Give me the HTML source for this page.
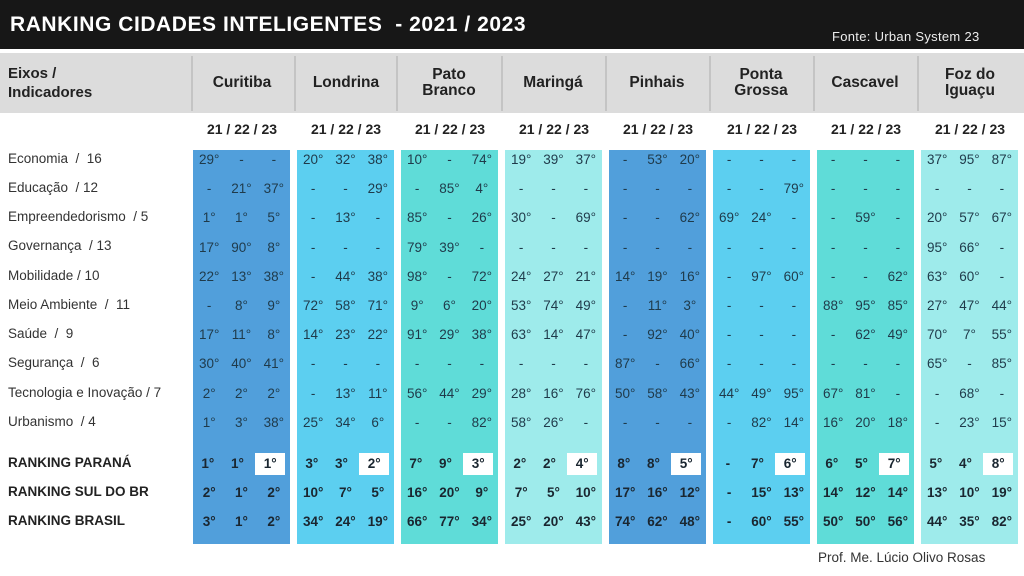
<!DOCTYPE html>
<html><head><meta charset="utf-8"><style>
*{margin:0;padding:0;box-sizing:border-box}
body{width:1024px;height:576px;overflow:hidden;background:#fff;font-family:"Liberation Sans",sans-serif;position:relative;color:#2b2f33}
.top{position:absolute;left:0;top:0;width:1024px;height:49px;background:#171717}
.title{position:absolute;left:10px;top:13px;color:#fff;font-weight:bold;font-size:21px;letter-spacing:0.55px}
.fonte{position:absolute;left:832px;top:29px;color:#eee;font-size:13px;letter-spacing:0.3px}
.hband{position:absolute;left:0;top:53px;width:1024px;height:60px;background:#dcdcdc}
.hd{position:absolute;top:56px;height:55px;border-left:2px solid #c4c4c4}
.hn{position:absolute;top:53px;height:60px;display:flex;align-items:center;justify-content:center;text-align:center;font-weight:bold;font-size:15.5px;line-height:16px;color:#222;width:104px}
.eixos{position:absolute;left:8px;top:64px;font-weight:bold;font-size:15px;line-height:19px;color:#222}
.yr{position:absolute;top:121px;width:104px;text-align:center;font-weight:bold;font-size:14px;color:#222}
.lab{position:absolute;left:8px;font-size:13.5px;color:#333}
.lab.b{font-weight:bold;font-size:13.5px;color:#222}
.col{position:absolute;top:150px;height:394px;width:97px}
.rows{position:absolute;left:0;top:-5px;width:97px}
.r{display:flex;height:29.2px;line-height:29.2px;font-size:13.5px;color:#1f3a4a}
.r span{flex:1;text-align:center}
.k{position:absolute;left:0;top:303.5px;width:97px}
.k .r{height:29px;line-height:29px;font-weight:bold;color:#1a2630}
.k .r span.w{background:#fff;margin:4px 5px 3px 3px;line-height:22px}
.c1{background:#519fdb}.c2{background:#5ccff0}.c3{background:#5fdcd8}.c4{background:#9eebeb}
.prof{position:absolute;left:818px;top:550px;font-size:13.5px;color:#333}
</style></head><body>
<div class="top"></div>
<div class="title">RANKING CIDADES INTELIGENTES &nbsp;- 2021 / 2023</div>
<div class="fonte">Fonte: Urban System 23</div>
<div class="hband"></div>
<div class="eixos">Eixos /<br>Indicadores</div>
<div class="hd" style="left:191px"></div><div class="hd" style="left:294px"></div><div class="hd" style="left:396px"></div><div class="hd" style="left:501px"></div><div class="hd" style="left:605px"></div><div class="hd" style="left:709px"></div><div class="hd" style="left:813px"></div><div class="hd" style="left:917px"></div>
<div class="hn" style="left:190px">Curitiba</div>
<div class="hn" style="left:294px">Londrina</div>
<div class="hn" style="left:397px">Pato<br>Branco</div>
<div class="hn" style="left:501px">Maringá</div>
<div class="hn" style="left:605px">Pinhais</div>
<div class="hn" style="left:709px">Ponta<br>Grossa</div>
<div class="hn" style="left:813px">Cascavel</div>
<div class="hn" style="left:918px">Foz do<br>Iguaçu</div>
<div class="yr" style="left:190px">21 / 22 / 23</div><div class="yr" style="left:294px">21 / 22 / 23</div><div class="yr" style="left:398px">21 / 22 / 23</div><div class="yr" style="left:502px">21 / 22 / 23</div><div class="yr" style="left:606px">21 / 22 / 23</div><div class="yr" style="left:710px">21 / 22 / 23</div><div class="yr" style="left:814px">21 / 22 / 23</div><div class="yr" style="left:918px">21 / 22 / 23</div>

<div class="lab" style="top:151px">Economia &nbsp;/ &nbsp;16</div>
<div class="lab" style="top:180px">Educação &nbsp;/ 12</div>
<div class="lab" style="top:209px">Empreendedorismo &nbsp;/ 5</div>
<div class="lab" style="top:238px">Governança &nbsp;/ 13</div>
<div class="lab" style="top:268px">Mobilidade / 10</div>
<div class="lab" style="top:297px">Meio Ambiente &nbsp;/ &nbsp;11</div>
<div class="lab" style="top:326px">Saúde &nbsp;/ &nbsp;9</div>
<div class="lab" style="top:355px">Segurança &nbsp;/ &nbsp;6</div>
<div class="lab" style="top:385px">Tecnologia e Inovação / 7</div>
<div class="lab" style="top:414px">Urbanismo &nbsp;/ 4</div>
<div class="lab b" style="top:455px">RANKING PARANÁ</div>
<div class="lab b" style="top:484px">RANKING SUL DO BR</div>
<div class="lab b" style="top:513px">RANKING BRASIL</div>

<div class="col c1" style="left:193px"><div class="rows">
<div class="r"><span>29°</span><span>-</span><span>-</span></div>
<div class="r"><span>-</span><span>21°</span><span>37°</span></div>
<div class="r"><span>1°</span><span>1°</span><span>5°</span></div>
<div class="r"><span>17°</span><span>90°</span><span>8°</span></div>
<div class="r"><span>22°</span><span>13°</span><span>38°</span></div>
<div class="r"><span>-</span><span>8°</span><span>9°</span></div>
<div class="r"><span>17°</span><span>11°</span><span>8°</span></div>
<div class="r"><span>30°</span><span>40°</span><span>41°</span></div>
<div class="r"><span>2°</span><span>2°</span><span>2°</span></div>
<div class="r"><span>1°</span><span>3°</span><span>38°</span></div>
<div class="k">
<div class="r"><span>1°</span><span>1°</span><span class="w">1°</span></div>
<div class="r"><span>2°</span><span>1°</span><span>2°</span></div>
<div class="r"><span>3°</span><span>1°</span><span>2°</span></div>
</div></div></div>

<div class="col c2" style="left:297px"><div class="rows">
<div class="r"><span>20°</span><span>32°</span><span>38°</span></div>
<div class="r"><span>-</span><span>-</span><span>29°</span></div>
<div class="r"><span>-</span><span>13°</span><span>-</span></div>
<div class="r"><span>-</span><span>-</span><span>-</span></div>
<div class="r"><span>-</span><span>44°</span><span>38°</span></div>
<div class="r"><span>72°</span><span>58°</span><span>71°</span></div>
<div class="r"><span>14°</span><span>23°</span><span>22°</span></div>
<div class="r"><span>-</span><span>-</span><span>-</span></div>
<div class="r"><span>-</span><span>13°</span><span>11°</span></div>
<div class="r"><span>25°</span><span>34°</span><span>6°</span></div>
<div class="k">
<div class="r"><span>3°</span><span>3°</span><span class="w">2°</span></div>
<div class="r"><span>10°</span><span>7°</span><span>5°</span></div>
<div class="r"><span>34°</span><span>24°</span><span>19°</span></div>
</div></div></div>

<div class="col c3" style="left:401px"><div class="rows">
<div class="r"><span>10°</span><span>-</span><span>74°</span></div>
<div class="r"><span>-</span><span>85°</span><span>4°</span></div>
<div class="r"><span>85°</span><span>-</span><span>26°</span></div>
<div class="r"><span>79°</span><span>39°</span><span>-</span></div>
<div class="r"><span>98°</span><span>-</span><span>72°</span></div>
<div class="r"><span>9°</span><span>6°</span><span>20°</span></div>
<div class="r"><span>91°</span><span>29°</span><span>38°</span></div>
<div class="r"><span>-</span><span>-</span><span>-</span></div>
<div class="r"><span>56°</span><span>44°</span><span>29°</span></div>
<div class="r"><span>-</span><span>-</span><span>82°</span></div>
<div class="k">
<div class="r"><span>7°</span><span>9°</span><span class="w">3°</span></div>
<div class="r"><span>16°</span><span>20°</span><span>9°</span></div>
<div class="r"><span>66°</span><span>77°</span><span>34°</span></div>
</div></div></div>

<div class="col c4" style="left:505px"><div class="rows">
<div class="r"><span>19°</span><span>39°</span><span>37°</span></div>
<div class="r"><span>-</span><span>-</span><span>-</span></div>
<div class="r"><span>30°</span><span>-</span><span>69°</span></div>
<div class="r"><span>-</span><span>-</span><span>-</span></div>
<div class="r"><span>24°</span><span>27°</span><span>21°</span></div>
<div class="r"><span>53°</span><span>74°</span><span>49°</span></div>
<div class="r"><span>63°</span><span>14°</span><span>47°</span></div>
<div class="r"><span>-</span><span>-</span><span>-</span></div>
<div class="r"><span>28°</span><span>16°</span><span>76°</span></div>
<div class="r"><span>58°</span><span>26°</span><span>-</span></div>
<div class="k">
<div class="r"><span>2°</span><span>2°</span><span class="w">4°</span></div>
<div class="r"><span>7°</span><span>5°</span><span>10°</span></div>
<div class="r"><span>25°</span><span>20°</span><span>43°</span></div>
</div></div></div>

<div class="col c1" style="left:609px"><div class="rows">
<div class="r"><span>-</span><span>53°</span><span>20°</span></div>
<div class="r"><span>-</span><span>-</span><span>-</span></div>
<div class="r"><span>-</span><span>-</span><span>62°</span></div>
<div class="r"><span>-</span><span>-</span><span>-</span></div>
<div class="r"><span>14°</span><span>19°</span><span>16°</span></div>
<div class="r"><span>-</span><span>11°</span><span>3°</span></div>
<div class="r"><span>-</span><span>92°</span><span>40°</span></div>
<div class="r"><span>87°</span><span>-</span><span>66°</span></div>
<div class="r"><span>50°</span><span>58°</span><span>43°</span></div>
<div class="r"><span>-</span><span>-</span><span>-</span></div>
<div class="k">
<div class="r"><span>8°</span><span>8°</span><span class="w">5°</span></div>
<div class="r"><span>17°</span><span>16°</span><span>12°</span></div>
<div class="r"><span>74°</span><span>62°</span><span>48°</span></div>
</div></div></div>

<div class="col c2" style="left:713px"><div class="rows">
<div class="r"><span>-</span><span>-</span><span>-</span></div>
<div class="r"><span>-</span><span>-</span><span>79°</span></div>
<div class="r"><span>69°</span><span>24°</span><span>-</span></div>
<div class="r"><span>-</span><span>-</span><span>-</span></div>
<div class="r"><span>-</span><span>97°</span><span>60°</span></div>
<div class="r"><span>-</span><span>-</span><span>-</span></div>
<div class="r"><span>-</span><span>-</span><span>-</span></div>
<div class="r"><span>-</span><span>-</span><span>-</span></div>
<div class="r"><span>44°</span><span>49°</span><span>95°</span></div>
<div class="r"><span>-</span><span>82°</span><span>14°</span></div>
<div class="k">
<div class="r"><span>-</span><span>7°</span><span class="w">6°</span></div>
<div class="r"><span>-</span><span>15°</span><span>13°</span></div>
<div class="r"><span>-</span><span>60°</span><span>55°</span></div>
</div></div></div>

<div class="col c3" style="left:817px"><div class="rows">
<div class="r"><span>-</span><span>-</span><span>-</span></div>
<div class="r"><span>-</span><span>-</span><span>-</span></div>
<div class="r"><span>-</span><span>59°</span><span>-</span></div>
<div class="r"><span>-</span><span>-</span><span>-</span></div>
<div class="r"><span>-</span><span>-</span><span>62°</span></div>
<div class="r"><span>88°</span><span>95°</span><span>85°</span></div>
<div class="r"><span>-</span><span>62°</span><span>49°</span></div>
<div class="r"><span>-</span><span>-</span><span>-</span></div>
<div class="r"><span>67°</span><span>81°</span><span>-</span></div>
<div class="r"><span>16°</span><span>20°</span><span>18°</span></div>
<div class="k">
<div class="r"><span>6°</span><span>5°</span><span class="w">7°</span></div>
<div class="r"><span>14°</span><span>12°</span><span>14°</span></div>
<div class="r"><span>50°</span><span>50°</span><span>56°</span></div>
</div></div></div>

<div class="col c4" style="left:921px"><div class="rows">
<div class="r"><span>37°</span><span>95°</span><span>87°</span></div>
<div class="r"><span>-</span><span>-</span><span>-</span></div>
<div class="r"><span>20°</span><span>57°</span><span>67°</span></div>
<div class="r"><span>95°</span><span>66°</span><span>-</span></div>
<div class="r"><span>63°</span><span>60°</span><span>-</span></div>
<div class="r"><span>27°</span><span>47°</span><span>44°</span></div>
<div class="r"><span>70°</span><span>7°</span><span>55°</span></div>
<div class="r"><span>65°</span><span>-</span><span>85°</span></div>
<div class="r"><span>-</span><span>68°</span><span>-</span></div>
<div class="r"><span>-</span><span>23°</span><span>15°</span></div>
<div class="k">
<div class="r"><span>5°</span><span>4°</span><span class="w">8°</span></div>
<div class="r"><span>13°</span><span>10°</span><span>19°</span></div>
<div class="r"><span>44°</span><span>35°</span><span>82°</span></div>
</div></div></div>

<div class="prof">Prof. Me. Lúcio Olivo Rosas</div>
</body></html>
